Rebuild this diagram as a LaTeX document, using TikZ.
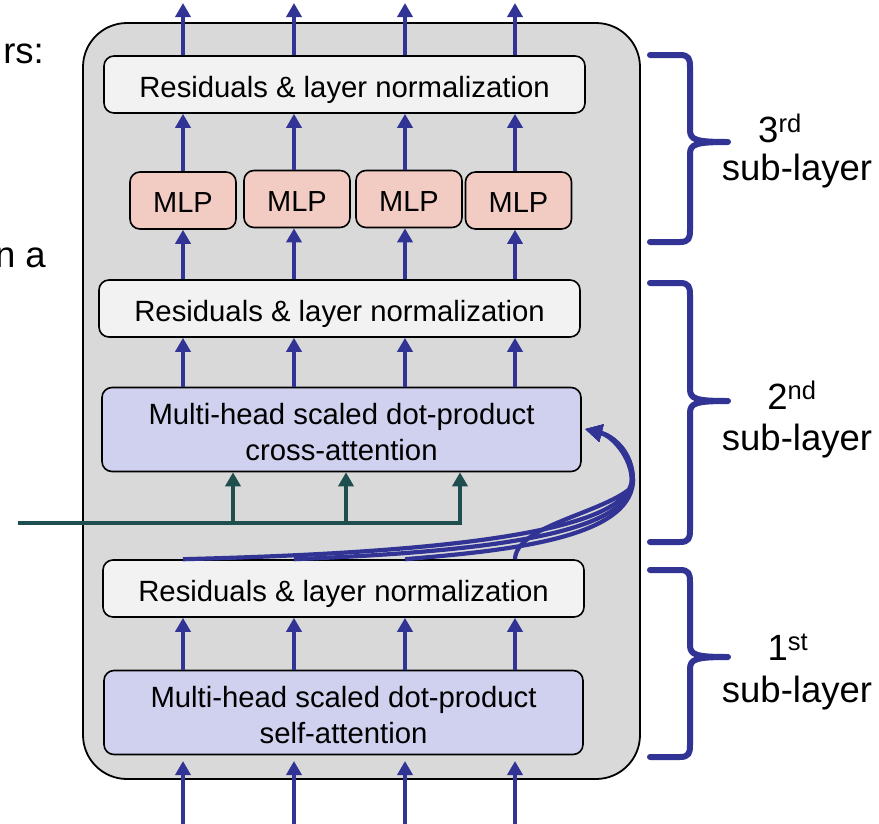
\documentclass[tikz,border=0pt]{standalone}
\usepackage{fontspec}
\setmainfont{Liberation Sans}
\usetikzlibrary{arrows.meta,calc}

\definecolor{panelgray}{HTML}{D9D9D9}
\definecolor{resfill}{HTML}{F2F2F2}
\definecolor{mlpfill}{HTML}{F2CBC3}
\definecolor{attfill}{HTML}{D0D0EF}
\definecolor{flowblue}{HTML}{313395}
\definecolor{darkteal}{HTML}{1F4E4E}

% strut that gives the first line of a two-line box a little head room
\newcommand{\firstline}{\rule{0pt}{27pt}}

\tikzset{
  box/.style={draw=black, line width=1.6pt, rounded corners=10pt, inner sep=0pt,
    align=center, font=\fontsize{29.3}{36}\selectfont},
  resbox/.style={box, fill=resfill, minimum width=481pt, minimum height=57pt,
    text height=26pt, text depth=0pt},
  mlpbox/.style={box, fill=mlpfill, minimum width=106pt, minimum height=57pt,
    font=\fontsize{29}{36}\selectfont, text height=24pt, text depth=0pt},
  attbox/.style={box, fill=attfill, minimum width=479pt, minimum height=84pt},
  flow/.style={draw=flowblue, line width=4.6pt, -{Triangle[length=14pt,width=15pt]}},
  resid/.style={draw=flowblue, line width=4.2pt, -{Triangle[length=17pt,width=17pt]}},
  memory/.style={draw=darkteal, line width=4.6pt, miter limit=4, -{Triangle[length=14pt,width=15pt]}},
  bracket/.style={draw=flowblue, line width=6pt, line cap=round, line join=round},
  sidelabel/.style={font=\fontsize{36.5}{42}\selectfont, anchor=base, inner sep=0pt},
}

\begin{document}
\begin{tikzpicture}[x=1pt, y=-1pt]
  \useasboundingbox (0,0) rectangle (879,823);
  \clip (0,0) rectangle (879,823);

  % fragments of surrounding slide text
  \node[sidelabel, anchor=base east] (frag1) at (44,63) {rs:};
  \node[sidelabel, anchor=base east] (frag2) at (46,267) {n a};

  % decoder layer panel
  \node[draw=black, line width=1.8pt, fill=panelgray, rounded corners=44pt,
        minimum width=557pt, minimum height=756pt, inner sep=0pt] (panel) at (361.5,401) {};

  % column positions
  \foreach \i/\x in {1/183, 2/294, 3/405, 4/515} {
    \coordinate (c\i) at (\x,0);
  }

  % boxes, top to bottom
  \node[resbox] (res3) at (344.5,84.5) {Residuals \& layer normalization};
  \node[mlpbox] (mlp1) at (183,200.5) {MLP};
  \node[mlpbox] (mlp2) at (297,199) {MLP};
  \node[mlpbox] (mlp3) at (409,199) {MLP};
  \node[mlpbox] (mlp4) at (518.5,200.5) {MLP};
  \node[resbox] (res2) at (339.5,308.5) {Residuals \& layer normalization};
  \node[attbox] (cross) at (341.5,429.5) {\firstline Multi-head scaled dot-product\\cross-attention};
  \node[resbox] (res1) at (343.5,588.5) {Residuals \& layer normalization};
  \node[attbox] (self) at (343.5,712.5) {\firstline Multi-head scaled dot-product\\self-attention};

  % vertical flow arrows
  \foreach \i in {1,2,3,4} {
    \coordinate (out\i) at ($(c\i)+(0,3)$);
    \coordinate (in\i) at ($(c\i)+(0,826)$);
    \coordinate (intip\i) at ($(c\i)+(0,761)$);
  }
  \foreach \i in {1,2,3,4} {
    \draw[flow] (res3.north -| c\i) -- (out\i);
    \draw[flow] (mlp\i.north -| c\i) -- (res3.south -| c\i);
    \draw[flow] (res2.north -| c\i) -- (mlp\i.south -| c\i);
    \draw[flow] (cross.north -| c\i) -- (res2.south -| c\i);
    \draw[flow] (self.north -| c\i) -- (res1.south -| c\i);
    \draw[flow] (in\i) -- (intip\i);
  }

  % encoder output feeding the cross-attention
  \coordinate (enc) at (18,523);
  \coordinate (k1) at (233,523);
  \coordinate (k2) at (346,523);
  \coordinate (k3) at (460,523);
  \draw[memory] (enc) -- (k3) -- (k3 |- cross.south);
  \draw[memory] (k1) -- (k1 |- cross.south);
  \draw[memory] (k2) -- (k2 |- cross.south);

  % residual connections around the cross-attention
  \coordinate (rtip) at (585,429);
  \draw[resid] (res1.north -| c1) .. controls (430,553) and (632,534) .. (632,478)
        .. controls (632,452) and (613,436) .. (rtip);
  \draw[resid] (res1.north -| c2) .. controls (470,552) and (631,537) .. (633,480)
        .. controls (633,452) and (613,436) .. (rtip);
  \draw[resid] (res1.north -| c3) .. controls (500,551) and (629,540) .. (633,482)
        .. controls (633,452) and (613,436) .. (rtip);
  \draw[resid] (res1.north -| c4) .. controls (516,526) and (600,514) .. (631,488)
        .. controls (636,462) and (613,436) .. (rtip);

  % sub-layer brackets
  \foreach \t/\m/\b in {570/657/757, 283/401/542, 55/142/242} {
    \draw[bracket] (650,\t) -- (680,\t) .. controls (689,\t) and (690,\t+4) .. (690,\t+12)
      -- (690,\m-12) .. controls (690,\m-2) and (696,\m) .. (728,\m)
      .. controls (696,\m) and (690,\m+2) .. (690,\m+12)
      -- (690,\b-12) .. controls (690,\b-4) and (689,\b) .. (680,\b) -- (650,\b);
  }

  % sub-layer labels
  \node[sidelabel] (n3) at (780,142) {3\textsuperscript{rd}};
  \node[sidelabel] (s3) at (797,180) {sub-layer};
  \node[sidelabel] (n2) at (792,409) {2\textsuperscript{nd}};
  \node[sidelabel] (s2) at (797,450) {sub-layer};
  \node[sidelabel] (n1) at (788,660) {1\textsuperscript{st}};
  \node[sidelabel] (s1) at (797,702) {sub-layer};
\end{tikzpicture}
\end{document}
